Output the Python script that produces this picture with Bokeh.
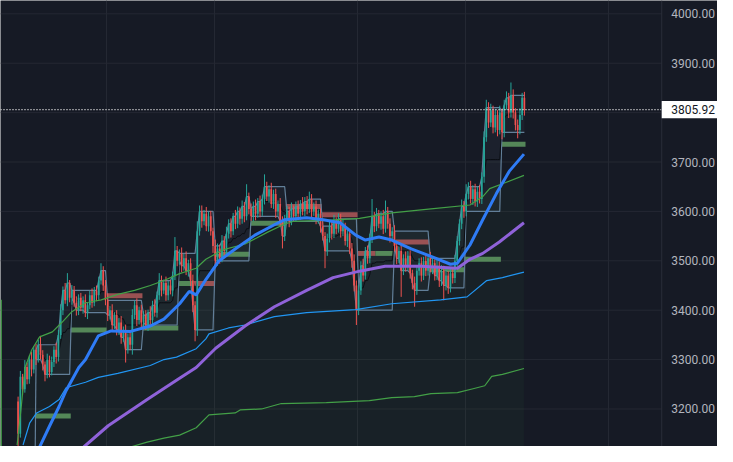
import numpy as np
from bokeh.plotting import figure
from bokeh.models import FixedTicker, Grid, ColumnDataSource
from bokeh.core.properties import value
from bokeh.embed import file_html
from bokeh.resources import INLINE

# ---------------- data ----------------
first_open = 3215
closes = [
    3150, 3265, 3240, 3285, 3260, 3300, 3280, 3320, 3300, 3330,
    3310, 3290, 3270, 3300, 3275, 3295, 3320, 3305, 3350, 3400,
    3440, 3420, 3455, 3425, 3440, 3415, 3400, 3425, 3405, 3420,
    3395, 3410, 3430, 3415, 3440, 3430, 3460, 3480, 3450, 3420,
    3390, 3400, 3370, 3390, 3360, 3375, 3345, 3360, 3320, 3345,
    3330, 3390, 3410, 3380, 3400, 3375, 3390, 3370, 3395, 3380,
    3410, 3395, 3430, 3460, 3440, 3455, 3430, 3450, 3440, 3470,
    3520, 3500, 3515, 3490, 3505, 3480, 3495, 3460, 3410, 3360,
    3560, 3600, 3580, 3595, 3570, 3590, 3560, 3530, 3500, 3525,
    3505, 3540, 3520, 3555, 3575, 3560, 3590, 3575, 3600, 3585,
    3610, 3590, 3630, 3605, 3590, 3610, 3595, 3620, 3600, 3625,
    3650, 3630, 3645, 3615, 3635, 3600, 3615, 3580, 3550, 3585,
    3600, 3580, 3605, 3590, 3610, 3595, 3615, 3600, 3620, 3605,
    3625, 3600, 3610, 3585, 3595, 3570, 3550, 3520, 3545, 3570,
    3555, 3580, 3565, 3585, 3560, 3570, 3540, 3555, 3525, 3500,
    3450, 3400, 3440, 3490, 3470, 3520, 3505, 3545, 3590, 3570,
    3595, 3575, 3590, 3565, 3600, 3575, 3550, 3560, 3530, 3505,
    3520, 3480, 3505, 3490, 3510, 3475, 3455, 3440, 3480, 3495,
    3470, 3500, 3480, 3505, 3485, 3495, 3470, 3490, 3460, 3480,
    3450, 3470, 3445, 3475, 3465, 3500, 3540, 3575, 3610, 3600,
    3635, 3650, 3625, 3645, 3620, 3640, 3625, 3670, 3750, 3810,
    3780, 3805, 3770, 3795, 3765, 3800, 3760, 3815, 3830, 3800,
    3835, 3800, 3775, 3765, 3795, 3830, 3805.92,
]
wick_up = [
    10, 12, 6, 14, 9, 8, 16, 7, 12, 10,
    18, 9, 6, 12, 8, 11, 7, 14, 10, 12,
    8, 15, 20, 6, 11, 9, 13, 7, 10, 8,
    12, 6, 9, 14, 7, 10, 8, 15, 9, 11,
    14, 8, 12, 6, 10, 9, 13, 7, 11, 8,
    10, 12, 9, 14, 7, 11, 8, 10, 6, 13,
    9, 12, 8, 15, 10, 7, 13, 9, 11, 8,
    28, 10, 8, 12, 9, 14, 7, 10, 12, 8,
    20, 12, 12, 8, 14, 9, 11, 7, 13, 10,
    8, 12, 10, 14, 9, 11, 7, 13, 10, 8,
    12, 9, 25, 8, 11, 10, 14, 7, 12, 9,
    25, 10, 8, 13, 9, 11, 7, 12, 10, 8,
    11, 9, 13, 7, 10, 12, 8, 14, 9, 11,
    15, 10, 8, 12, 9, 11, 13, 8, 10, 12,
    9, 13, 8, 11, 10, 14, 7, 12, 9, 11,
    13, 10, 12, 9, 14, 8, 11, 10, 35, 9,
    12, 8, 10, 13, 22, 9, 11, 8, 12, 10,
    9, 12, 8, 14, 10, 11, 7, 13, 9, 10,
    12, 8, 11, 9, 13, 10, 8, 12, 9, 11,
    10, 13, 9, 11, 8, 12, 10, 9, 14, 11,
    20, 9, 12, 8, 11, 10, 13, 9, 12, 16,
    11, 13, 9, 12, 10, 14, 8, 11, 13, 10,
    26, 12, 9, 11, 14, 10, 12,
]
wick_dn = [
    26, 8, 12, 7, 10, 9, 14, 8, 11, 6,
    9, 12, 14, 8, 11, 7, 10, 13, 9, 8,
    10, 7, 12, 9, 14, 8, 11, 10, 7, 12,
    9, 13, 8, 10, 7, 12, 9, 8, 11, 10,
    12, 9, 14, 8, 11, 10, 13, 9, 26, 8,
    11, 20, 8, 12, 9, 14, 7, 10, 12, 9,
    13, 8, 10, 9, 12, 7, 11, 10, 8, 12,
    9, 11, 8, 13, 10, 9, 12, 11, 14, 23,
    12, 9, 13, 8, 10, 11, 9, 14, 12, 10,
    11, 8, 12, 9, 10, 13, 8, 11, 9, 12,
    10, 12, 8, 11, 9, 10, 13, 8, 12, 9,
    11, 9, 12, 8, 10, 13, 9, 11, 25, 10,
    9, 12, 8, 11, 10, 9, 12, 8, 10, 11,
    8, 12, 9, 11, 10, 13, 9, 35, 10, 8,
    12, 9, 11, 8, 13, 10, 9, 12, 11, 14,
    12, 30, 10, 9, 12, 8, 11, 10, 9, 12,
    10, 9, 12, 11, 8, 10, 13, 9, 11, 12,
    10, 53, 9, 12, 10, 11, 13, 33, 9, 10,
    12, 9, 11, 10, 8, 12, 10, 9, 13, 11,
    30, 10, 12, 9, 11, 10, 12, 9, 11, 13,
    10, 11, 9, 12, 10, 11, 9, 10, 12, 9,
    11, 9, 12, 10, 13, 9, 14, 10, 9, 11,
    10, 12, 11, 17, 9, 10, 12,
]

# session (period) structure
period_first = 8
period_len = 16
pre_window_low = 3050

# moving averages / bands, sampled (bar index, price)
ema_fast_idx = [9.6, 14.0, 18.3, 21.4, 27.1, 30.1, 35.8, 41.5, 50.2, 59.0, 65.1, 72.1, 76.4, 79.5, 83.8,
                89.5, 96.9, 105.7, 114.4, 118.8, 128.8, 136.2, 143.7, 150.7, 155.0, 161.1, 166.8, 175.5,
                184.3, 193.0, 196.1, 201.7, 207.4, 213.5, 219.2, 225.8]
ema_fast_val = [3123, 3165, 3205, 3237, 3284, 3300, 3348, 3358, 3357, 3368, 3382, 3413, 3438, 3431, 3462,
                3499, 3524, 3552, 3573, 3583, 3587, 3583, 3577, 3552, 3542, 3548, 3542, 3524,
                3509, 3493, 3495, 3532, 3583, 3636, 3681, 3716]
ma_mid_idx = [29.3, 40.2, 57.6, 70.7, 79.5, 88.2, 101.3, 114.4, 128.8, 140.6, 152.4, 163.8, 179.9, 196.1,
              201.7, 207.4, 214.8, 225.8]
ma_mid_val = [3123, 3166, 3219, 3258, 3284, 3323, 3368, 3407, 3440, 3466, 3479, 3489, 3489, 3485,
              3503, 3515, 3538, 3577]
ma_slow_idx = [2.2, 5.2, 8.3, 14.0, 18.3, 21.4, 30.1, 35.8, 44.5, 59.0, 65.1, 70.7, 79.5, 83.8, 85.2, 93.9,
               101.3, 114.4, 128.8, 150.7, 166.8, 188.6, 200.4, 209.2, 216.2, 225.8]
ma_slow_val = [3127, 3172, 3192, 3205, 3219, 3243, 3254, 3264, 3272, 3288, 3300, 3305, 3322, 3342, 3352, 3364,
               3370, 3387, 3395, 3401, 3413, 3421, 3427, 3460, 3466, 3477]
band_up_idx = [-0.44, 1.3, 3.1, 6.1, 9.6, 15.3, 19.7, 24.0, 30.1, 37.1, 44.5, 52.0, 59.0, 65.1, 72.1, 79.5,
               83.8, 91.3, 101.3, 111.4, 118.8, 123.1, 137.6, 152.4, 166.8, 184.3, 201.7, 207.4, 210.5,
               216.2, 225.8]
band_up_val = [3127, 3200, 3284, 3320, 3346, 3356, 3376, 3397, 3415, 3421, 3432, 3440, 3450, 3460, 3474, 3485,
               3503, 3522, 3534, 3558, 3574, 3580, 3582, 3586, 3597, 3605, 3613, 3630, 3646,
               3656, 3673]
band_lo_idx = [50.2, 57.6, 65.1, 72.1, 79.5, 85.2, 96.9, 99.1, 108.7, 117.5, 137.6, 156.8, 166.8, 176.9,
               184.3, 196.1, 203.1, 208.3, 211.4, 216.2, 225.8]
band_lo_val = [3123, 3133, 3141, 3147, 3162, 3188, 3192, 3198, 3200, 3211, 3213, 3217, 3223, 3225,
               3231, 3233, 3241, 3247, 3266, 3270, 3282]
edge_line_idx = [-7.6, -7.6]
edge_line_val = [3421, 3100]
fill_floor = 3000

# prior-session levels
seg_start = [8, 24, 40, 56, 72, 79, 88, 104, 120, 136, 152, 160, 168, 184, 200, 216]
seg_end = [24, 40, 56, 72, 79, 88, 104, 120, 136, 152, 160, 168, 184, 200, 216, 227]
seg_level = [3186, 3360, 3429, 3364, 3454, 3454, 3513, 3576, 3610, 3593, 3515, 3515, 3538, 3482, 3503, 3736]
seg_dir = ["up", "up", "dn", "up", "up", "dn", "up", "up", "dn", "dn", "dn", "up", "dn", "up", "up", "up"]

# price scale
y_ticks = [3200, 3300, 3400, 3500, 3600, 3700, 3800, 3900, 4000]
tick_labels = ["%.2f" % t for t in y_ticks]
x_grid_ticks = [39.5, 87.5, 151.5, 199.5, 263.5]

# ---------------- layout constants ----------------
x_view = (-7.86, 312.2)      # whole canvas (chart pane + price scale)
y_view = (3124, 4027)
scale_x = 287.3              # left edge of price scale
label_x = 291.6              # tick label anchor
badge_half = 17.5            # half height of last-price badge (price units)

# ---------------- derived ----------------
n = len(closes)
idx = np.arange(n)
opens = [first_open] + closes[:-1]
hi_body = [max(o, c) for o, c in zip(opens, closes)]
lo_body = [min(o, c) for o, c in zip(opens, closes)]
highs = [h + w for h, w in zip(hi_body, wick_up)]
lows = [l - w for l, w in zip(lo_body, wick_dn)]
UPC, DNC = "#26a69a", "#ef5350"
colors = [UPC if c >= o else DNC for o, c in zip(opens, closes)]

env_x, env_hi, env_lo = [], [], []
hi = lo = None
for i in range(period_first, n):
    if (i - period_first) % period_len == 0:
        hi, lo = hi_body[i], lo_body[i]
    else:
        hi, lo = max(hi, hi_body[i]), min(lo, lo_body[i])
    env_x.append(i)
    env_hi.append(hi)
    env_lo.append(lo)
env_mid = [(a + b) / 2 for a, b in zip(env_hi, env_lo)]

BG = "#161a25"
GRID = "#242833"

p = figure(width=717, height=446, x_range=x_view, y_range=y_view,
           y_axis_location=None, x_axis_location=None,
           output_backend="svg", toolbar_location=None,
           background_fill_color=BG, border_fill_color=BG, min_border=0)
p.outline_line_color = None
p.xgrid.visible = False
p.ygrid.visible = False
p.add_layout(Grid(dimension=0, ticker=FixedTicker(ticks=x_grid_ticks), grid_line_color=GRID))
p.segment(x0=[x_view[0]] * len(y_ticks), x1=[scale_x] * len(y_ticks), y0=y_ticks, y1=y_ticks,
          line_color=GRID, line_width=1)

# big band fill
p.varea(x=band_up_idx, y1=[fill_floor] * len(band_up_idx), y2=band_up_val,
        fill_color="#4caf50", fill_alpha=0.05)

# session envelope
p.varea(x=env_x, y1=env_lo, y2=env_hi, fill_color="#6b7d92", fill_alpha=0.08)

# prior-session levels
seg_colors = ["#5f9a62" if d == "up" else "#b0595a" for d in seg_dir]
p.segment(x0=[s - 0.5 for s in seg_start], x1=[e - 0.5 for e in seg_end], y0=seg_level, y1=seg_level,
          line_color=seg_colors, line_width=5, line_alpha=0.85)

ENV = "#627f99"
p.line(env_x, env_hi, line_color=ENV, line_width=1.2)
p.line(env_x, env_lo, line_color=ENV, line_width=1.2)
p.line([period_first - 0.5, period_first], [pre_window_low, env_lo[0]], line_color=ENV, line_width=1.2)
p.line(env_x, env_mid, line_color="#0b0e14", line_width=1)

# candles
src = ColumnDataSource(dict(x=idx, top=hi_body, bottom=lo_body, high=highs, low=lows, color=colors))
p.segment(x0="x", x1="x", y0="low", y1="high", line_color="color", line_width=1, source=src)
p.vbar(x="x", width=0.75, top="top", bottom="bottom", fill_color="color", line_color=None, source=src)

# indicator lines
p.line(edge_line_idx, edge_line_val, line_color="#43a047", line_width=1.5)
p.line(band_up_idx, band_up_val, line_color="#43a047", line_width=1.2)
p.line(band_lo_idx, band_lo_val, line_color="#43a047", line_width=1.2)
p.line(ma_slow_idx, ma_slow_val, line_color="#2196f3", line_width=1.2)
p.line(ma_mid_idx, ma_mid_val, line_color="#8f62d9", line_width=3)
p.line(ema_fast_idx, ema_fast_val, line_color="#2f7cf6", line_width=3)

# last price line
last_close = closes[-1]
p.segment(x0=[x_view[0]], x1=[scale_x], y0=[last_close], y1=[last_close],
          line_color="white", line_dash="1 2", line_width=1.3)

# price scale
p.segment(x0=[scale_x], x1=[scale_x], y0=[y_view[0]], y1=[y_view[1]], line_color="#2a2e39", line_width=1)
p.text(x=[label_x] * len(y_ticks), y=y_ticks, text=tick_labels,
       text_font=value("Roboto"), text_font_size="12px", text_color="#b2b5be",
       text_align="left", text_baseline="middle")
p.quad(left=[scale_x], right=[x_view[1]], bottom=[last_close - badge_half], top=[last_close + badge_half],
       fill_color="white", line_color=None)
p.text(x=[label_x], y=[last_close], text=["%.2f" % last_close],
       text_font=value("Roboto"), text_font_size="12px", text_color="#131722",
       text_align="left", text_baseline="middle")

open("out.html", "w").write(file_html(p, INLINE))
